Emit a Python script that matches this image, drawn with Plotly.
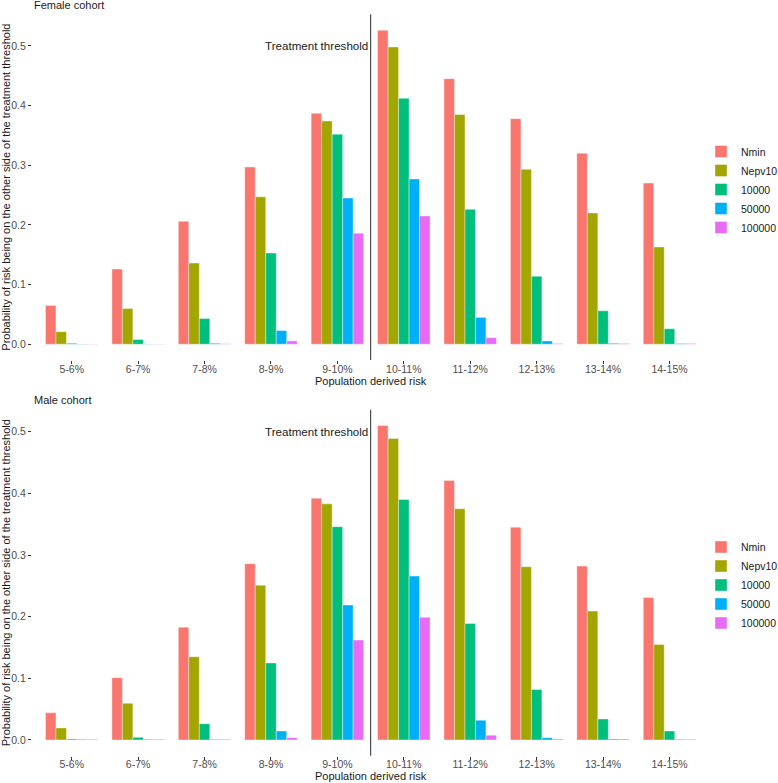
import plotly.graph_objects as go

categories = ["5-6%", "6-7%", "7-8%", "8-9%", "9-10%",
              "10-11%", "11-12%", "12-13%", "13-14%", "14-15%"]
series_names = ["Nmin", "Nepv10", "10000", "50000", "100000"]
series_colors = ["#F8766D", "#A3A500", "#00BF7D", "#00B0F6", "#E76BF3"]

female_nmin = [0.065, 0.126, 0.206, 0.297, 0.387, 0.526, 0.445, 0.378, 0.320, 0.270]
female_nepv10 = [0.021, 0.060, 0.136, 0.247, 0.374, 0.498, 0.385, 0.293, 0.220, 0.163]
female_10000 = [0.0017, 0.0078, 0.043, 0.153, 0.352, 0.412, 0.226, 0.114, 0.056, 0.026]
female_50000 = [0.0006, 0.0006, 0.0017, 0.023, 0.245, 0.277, 0.045, 0.0056, 0.0017, 0.0011]
female_100000 = [0.0006, 0.0006, 0.0008, 0.0056, 0.186, 0.215, 0.011, 0.0011, 0.0011, 0.0011]

male_nmin = [0.044, 0.101, 0.183, 0.286, 0.392, 0.510, 0.421, 0.345, 0.282, 0.231]
male_nepv10 = [0.0195, 0.0595, 0.135, 0.251, 0.383, 0.489, 0.375, 0.281, 0.209, 0.155]
male_10000 = [0.0016, 0.0043, 0.0265, 0.125, 0.346, 0.390, 0.189, 0.082, 0.034, 0.0146]
male_50000 = [0.0011, 0.0011, 0.0011, 0.0146, 0.219, 0.266, 0.032, 0.0038, 0.0016, 0.0011]
male_100000 = [0.0011, 0.0011, 0.0011, 0.0038, 0.162, 0.199, 0.0076, 0.0016, 0.0016, 0.0011]

y_ticks = [0.0, 0.1, 0.2, 0.3, 0.4, 0.5]
threshold_label = "Treatment threshold"
panel_titles = ["Female cohort", "Male cohort"]
x_title = "Population derived risk"
y_title = "Probability of risk being on the other side of the treatment threshold"

female = [female_nmin, female_nepv10, female_10000, female_50000, female_100000]
male = [male_nmin, male_nepv10, male_10000, male_50000, male_100000]

FONT = "Liberation Sans, Arial, sans-serif"
W, H = 778, 783

fig = go.Figure()
for i, name in enumerate(series_names):
    fig.add_trace(go.Bar(x=categories, y=female[i], name=name,
                         marker=dict(color=series_colors[i], line=dict(color="white", width=0.4)),
                         xaxis="x", yaxis="y", legend="legend"))
for i, name in enumerate(series_names):
    fig.add_trace(go.Bar(x=categories, y=male[i], name=name,
                         marker=dict(color=series_colors[i], line=dict(color="white", width=0.4)),
                         xaxis="x2", yaxis="y2", legend="legend2"))

xdom = [31.85 / W, 709.35 / W]
top_dom = [1 - 360.0 / H, 1 - 14.2 / H]
bot_dom = [1 - 755.7 / H, 1 - 409.8 / H]

tickfont = dict(family=FONT, size=10.5, color="#4D4D4D")
titlefont = dict(family=FONT, size=11, color="#1a1a1a")

def xaxis_cfg(anchor):
    return dict(domain=xdom, anchor=anchor, type="category", range=[-0.6, 9.6],
                showgrid=False, zeroline=False, showline=False,
                ticks="outside", ticklen=3, tickwidth=1, tickcolor="#333333",
                ticklabelstandoff=-4,
                tickfont=tickfont, title=dict(text=x_title, font=titlefont, standoff=2),
                automargin=False)

def yaxis_cfg(anchor, dom, rng):
    return dict(domain=dom, anchor=anchor, range=rng, tickvals=y_ticks, tickformat=".1f",
                showgrid=False, zeroline=False, showline=False,
                ticks="outside", ticklen=3, tickwidth=1, tickcolor="#333333",
                tickfont=tickfont, title=dict(text=y_title, font=titlefont, standoff=0),
                automargin=False)

legend_font = dict(family=FONT, size=10.5, color="#1a1a1a")

fig.update_layout(
    width=W, height=H, autosize=False,
    margin=dict(l=0, r=0, t=0, b=0, autoexpand=False),
    paper_bgcolor="white", plot_bgcolor="white",
    font=dict(family=FONT),
    barmode="group", bargap=0.21, bargroupgap=0,
    xaxis=xaxis_cfg("y"),
    yaxis=yaxis_cfg("x", top_dom, [-0.0264, 0.553]),
    xaxis2=xaxis_cfg("y2"),
    yaxis2=yaxis_cfg("x2", bot_dom, [-0.0255, 0.5355]),
    legend=dict(x=701 / W, xanchor="left", y=1 - 189.5 / H, yanchor="middle",
                font=legend_font, bgcolor="rgba(0,0,0,0)", traceorder="normal"),
    legend2=dict(x=701 / W, xanchor="left", y=1 - 585.0 / H, yanchor="middle",
                 font=legend_font, bgcolor="rgba(0,0,0,0)", traceorder="normal"),
)

for xr, yr in [("x", "y"), ("x2", "y2")]:
    fig.add_shape(type="line", xref=xr, yref=yr + " domain", x0=4.5, x1=4.5, y0=0, y1=1,
                  line=dict(color="#4D4D4D", width=1.2))
    fig.add_annotation(xref=xr, yref=yr, x=4.5, y=0.5, text=threshold_label, showarrow=False,
                       xanchor="right", yanchor="middle", xshift=-1,
                       font=dict(family=FONT, size=11.6, color="#1a1a1a"))

fig.add_annotation(xref="paper", yref="paper", x=32.3 / W, y=1 - 5.0 / H, text=panel_titles[0],
                   showarrow=False, xanchor="left", yanchor="middle",
                   font=dict(family=FONT, size=11, color="#1a1a1a"))
fig.add_annotation(xref="paper", yref="paper", x=32.3 / W, y=1 - 400.0 / H, text=panel_titles[1],
                   showarrow=False, xanchor="left", yanchor="middle",
                   font=dict(family=FONT, size=11, color="#1a1a1a"))

post = ("document.body.style.margin='0';document.body.style.padding='0';"
        "document.body.style.overflow='hidden';"
        "document.documentElement.style.overflow='hidden';"
        "var gd=document.getElementById('{plot_id}');"
        "Plotly.relayout(gd,{width:%d,height:%d});" % (W, H))

fig.write_html("out.html", config={"responsive": False, "displayModeBar": False},
               post_script=post)
